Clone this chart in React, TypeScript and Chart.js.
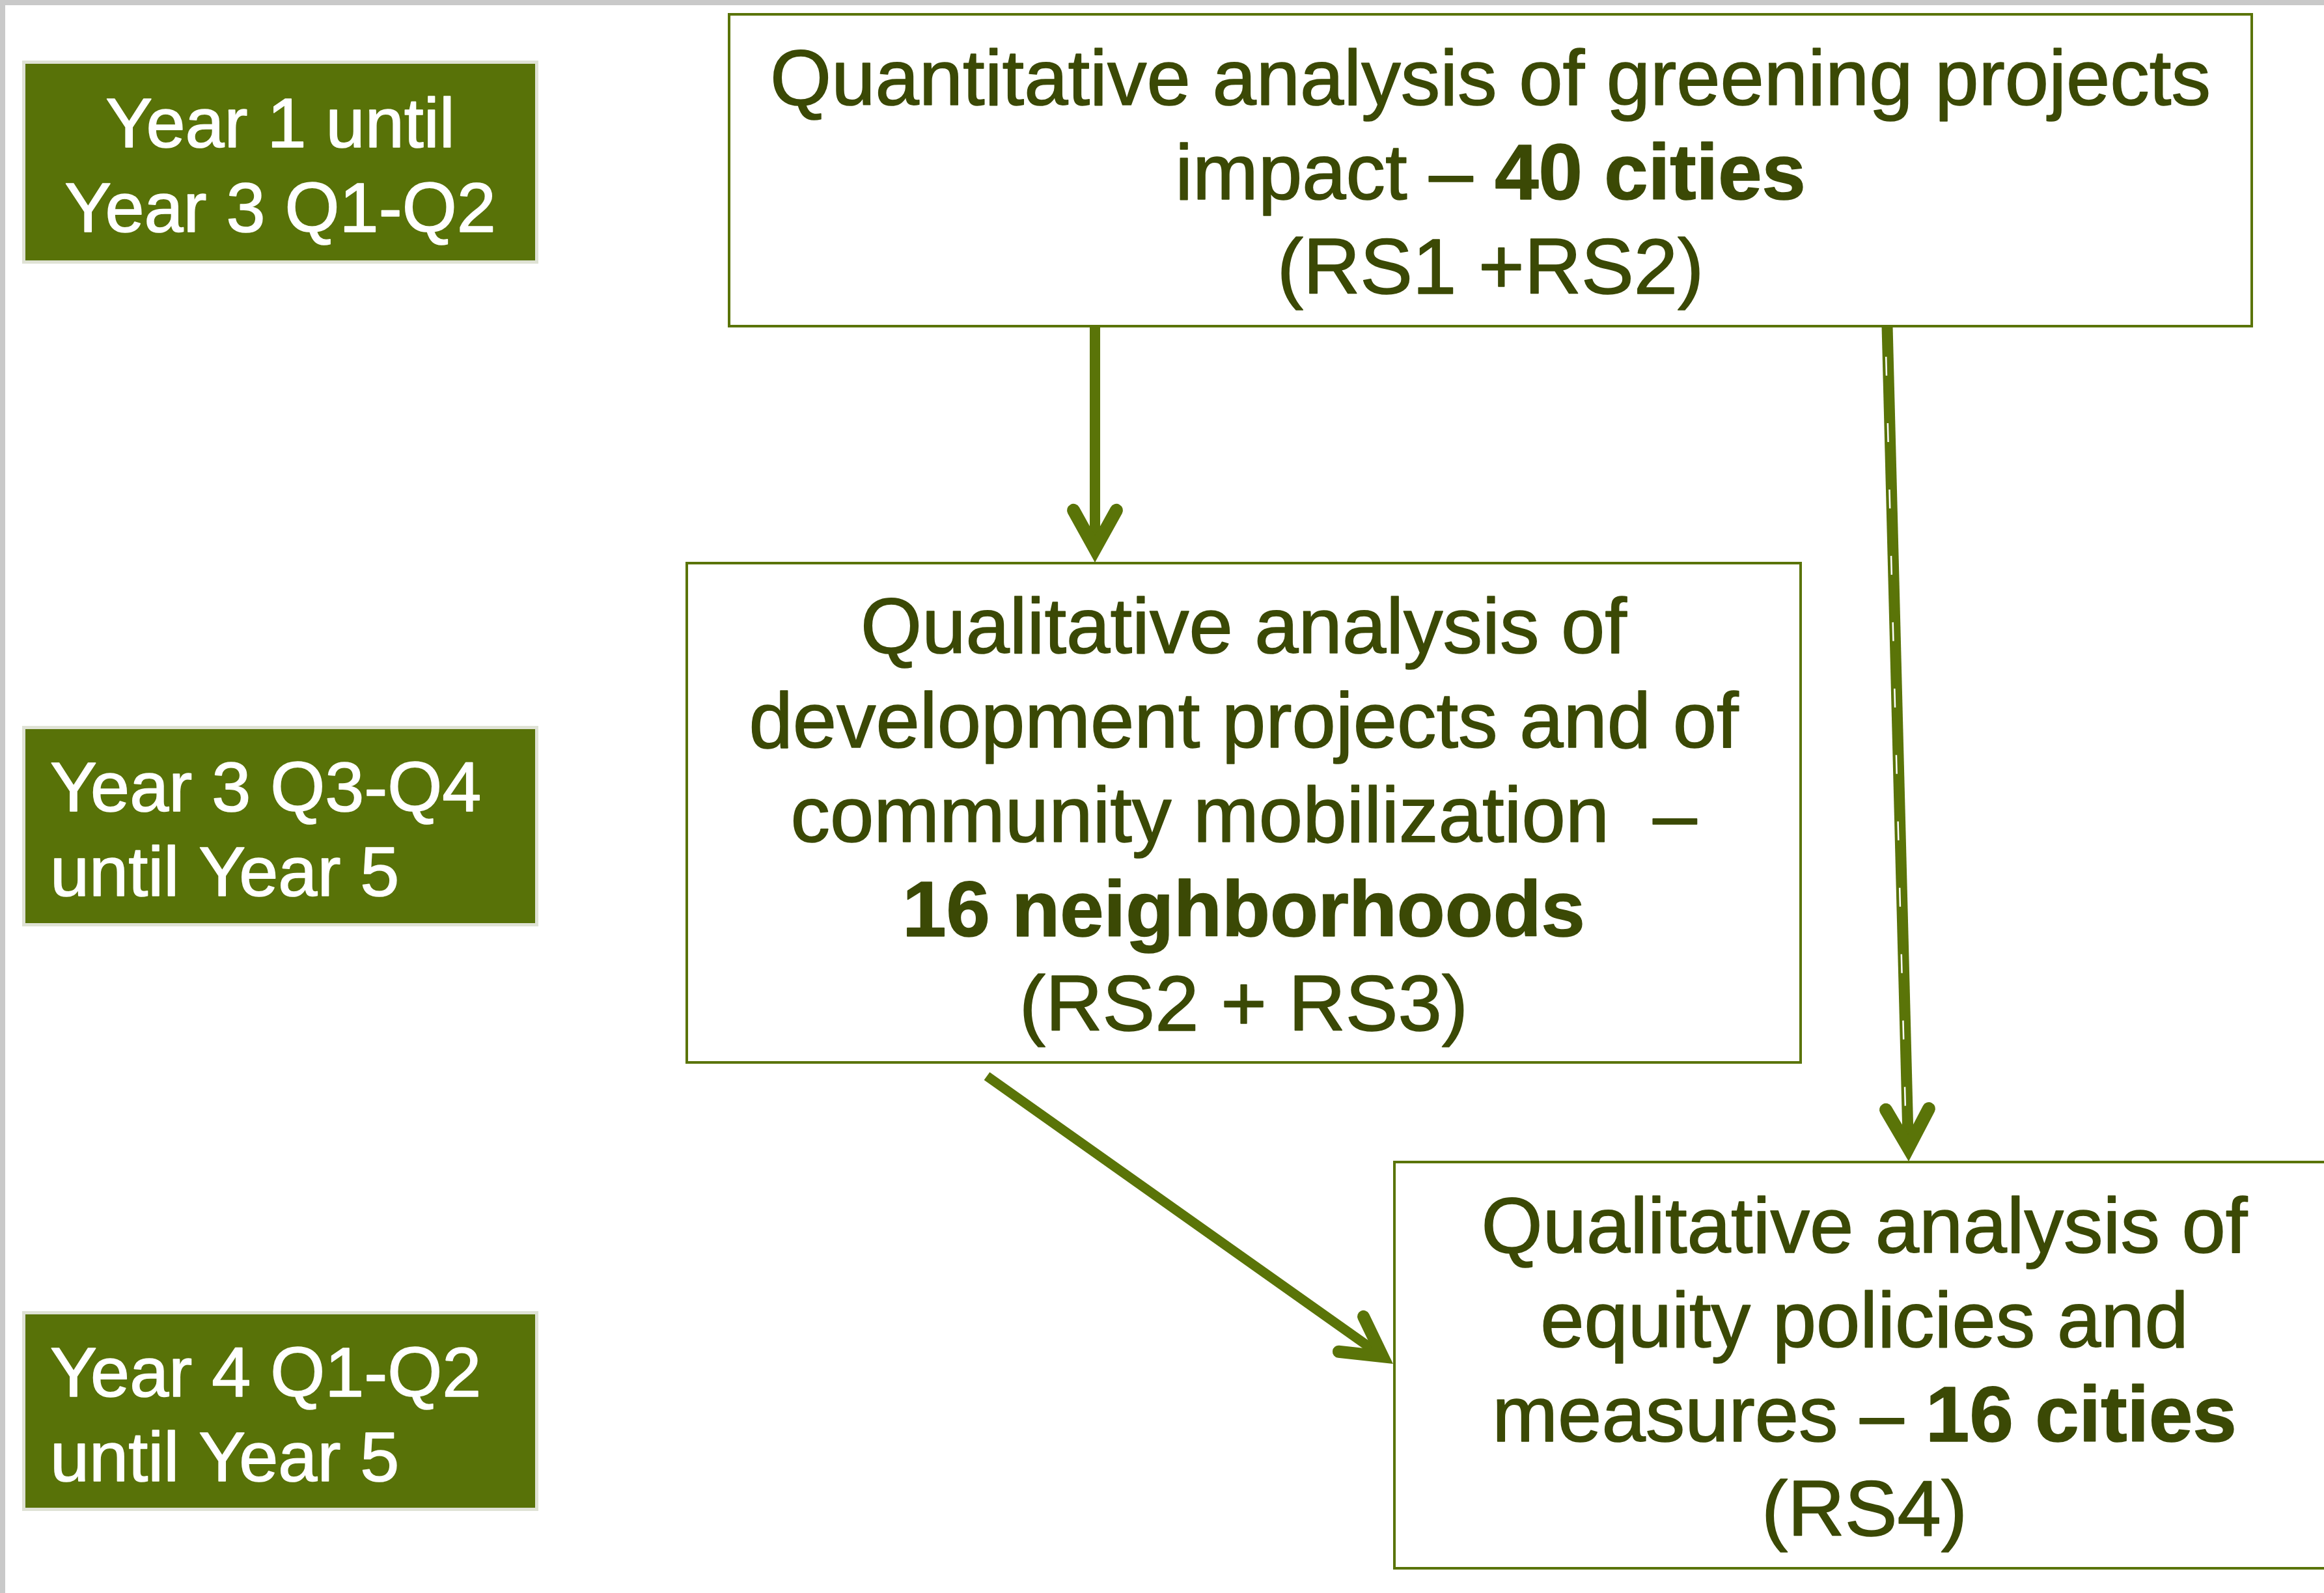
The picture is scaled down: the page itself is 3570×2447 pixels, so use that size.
import { useEffect, useRef } from "react";
import { Chart, registerables } from "chart.js";

Chart.register(...registerables);

// ---- coordinate space of the diagram (data units) ----
const SPACE_W = 3570;
const SPACE_H = 2447;

// ---- timeline labels (left column) ----
const periodLines: string[][] = [
  ["Year 1 until", "Year 3 Q1-Q2"],
  ["Year 3 Q3-Q4", "until Year 5"],
  ["Year 4 Q1-Q2", "until Year 5"],
];
const periodAlign = ["center", "left", "left"];
const periodLeft = [34, 34, 34];
const periodRight = [827, 827, 827];
const periodTop = [93, 1115, 2014];
const periodBottom = [405, 1423, 2321];

// ---- analysis steps (each line = list of [text, bold]) ----
const stepLines: [string, boolean][][][] = [
  [
    [["Quantitative analysis of greening projects", false]],
    [["impact – ", false], ["40 cities", true]],
    [["(RS1 +RS2)", false]],
  ],
  [
    [["Qualitative analysis of", false]],
    [["development projects and of", false]],
    [["community mobilization  –", false]],
    [["16 neighborhoods", true]],
    [["(RS2 + RS3)", false]],
  ],
  [
    [["Qualitative analysis of", false]],
    [["equity policies and", false]],
    [["measures – ", false], ["16 cities", true]],
    [["(RS4)", false]],
  ],
];
const stepLeft = [1120, 1055, 2142];
const stepRight = [3459, 2766, 3586];
const stepTop = [22, 865, 1785];
const stepBottom = [501, 1632, 2409];

// ---- arrows between steps ----
const arrowFromX = [1682, 2899, 1516];
const arrowFromY = [501, 501, 1653];
const arrowToX = [1682, 2932, 2140];
const arrowToY = [864, 1784, 2095];
const arrowWidth = [16, 17, 15];
const arrowHeadWidth = [20, 20, 19];

// ---- styles ----
const GREEN = "#587208";
const GREEN_EDGE = "#dfe2d5";
const LINE_GREEN = "#5a7408";
const TEXT_DARK = "#3b4905";
const FRAME_GRAY = "#c9c9c9";
const FONT = '"Liberation Sans", Arial, sans-serif';
const STEP_FONT_SIZE = 121;
const STEP_LINE_H = 145;
const STEP_BASE_K = 44;
const PERIOD_FONT_SIZE = 108;
const PERIOD_LINE_H = 130;
const PERIOD_BASE_K = 42;
const PERIOD_TEXT_INSET = 43;
const TEXT_HALO = 1.6;
const HEAD_LEN = 68;
const HEAD_ANGLE = (29 * Math.PI) / 180;

function arrowGeom(i: number, sx: any, sy: any) {
  const x0 = sx.getPixelForValue(arrowFromX[i]);
  const y0 = sy.getPixelForValue(arrowFromY[i]);
  const x1 = sx.getPixelForValue(arrowToX[i]);
  const y1 = sy.getPixelForValue(arrowToY[i]);
  const len = Math.hypot(x1 - x0, y1 - y0);
  const dx = (x1 - x0) / len;
  const dy = (y1 - y0) / len;
  const w = arrowHeadWidth[i];
  const tipBack = w / 2 / Math.sin(HEAD_ANGLE);
  const ax = x1 - dx * tipBack;
  const ay = y1 - dy * tipBack;
  return { x0, y0, x1, y1, dx, dy, w, ax, ay };
}

const diagramPlugin = {
  id: "diagram",
  beforeDraw(chart: any) {
    const { ctx, scales } = chart;
    const sx = scales.x;
    const sy = scales.y;
    ctx.save();
    ctx.fillStyle = "#ffffff";
    ctx.fillRect(0, 0, chart.width, chart.height);
    // frame
    ctx.fillStyle = FRAME_GRAY;
    ctx.fillRect(0, 0, chart.width, 8);
    ctx.fillRect(0, 0, 8, chart.height);

    // period boxes
    for (let i = 0; i < periodLines.length; i++) {
      const l = sx.getPixelForValue(periodLeft[i]);
      const r = sx.getPixelForValue(periodRight[i]);
      const t = sy.getPixelForValue(periodTop[i]);
      const b = sy.getPixelForValue(periodBottom[i]);
      ctx.fillStyle = GREEN_EDGE;
      ctx.fillRect(l, t, r - l, b - t);
      ctx.fillStyle = GREEN;
      ctx.fillRect(l + 5, t + 5, r - l - 10, b - t - 10);
    }
    // step boxes
    ctx.strokeStyle = LINE_GREEN;
    ctx.lineWidth = 4;
    for (let i = 0; i < stepLines.length; i++) {
      const l = sx.getPixelForValue(stepLeft[i]);
      const r = sx.getPixelForValue(stepRight[i]);
      const t = sy.getPixelForValue(stepTop[i]);
      const b = sy.getPixelForValue(stepBottom[i]);
      ctx.fillStyle = "#ffffff";
      ctx.fillRect(l, t, r - l, b - t);
      ctx.strokeRect(l, t, r - l, b - t);
    }
    ctx.restore();
  },
  afterDatasetsDraw(chart: any) {
    const { ctx, scales } = chart;
    const sx = scales.x;
    const sy = scales.y;
    ctx.save();
    for (let i = 0; i < arrowFromX.length; i++) {
      const g = arrowGeom(i, sx, sy);
      const bx = -g.dx;
      const by = -g.dy;
      const c = Math.cos(HEAD_ANGLE);
      const s = Math.sin(HEAD_ANGLE);
      const p1x = g.ax + (bx * c - by * s) * HEAD_LEN;
      const p1y = g.ay + (bx * s + by * c) * HEAD_LEN;
      const p2x = g.ax + (bx * c + by * s) * HEAD_LEN;
      const p2y = g.ay + (-bx * s + by * c) * HEAD_LEN;
      ctx.strokeStyle = LINE_GREEN;
      ctx.lineWidth = g.w;
      ctx.lineJoin = "miter";
      ctx.miterLimit = 10;
      ctx.lineCap = "round";
      ctx.beginPath();
      ctx.moveTo(p1x, p1y);
      ctx.lineTo(g.ax, g.ay);
      ctx.lineTo(p2x, p2y);
      ctx.stroke();
    }
    // white dash artefact inside the long right arrow
    const g = arrowGeom(1, sx, sy);
    ctx.strokeStyle = "#ffffff";
    ctx.lineWidth = 2.5;
    ctx.lineCap = "butt";
    ctx.setLineDash([29, 73]);
    ctx.lineDashOffset = 55;
    ctx.beginPath();
    ctx.moveTo(g.x0 - 3, g.y0);
    ctx.lineTo(g.ax - 3 - g.dx * 40, g.ay - g.dy * 40);
    ctx.stroke();
    ctx.setLineDash([]);
    ctx.restore();
  },
  afterDraw(chart: any) {
    const { ctx, scales } = chart;
    const sx = scales.x;
    const sy = scales.y;
    ctx.save();
    ctx.textBaseline = "alphabetic";
    ctx.lineJoin = "round";
    ctx.lineWidth = TEXT_HALO;
    // period labels
    ctx.fillStyle = "#ffffff";
    ctx.strokeStyle = "#ffffff";
    ctx.font = `${PERIOD_FONT_SIZE}px ${FONT}`;
    for (let i = 0; i < periodLines.length; i++) {
      const l = sx.getPixelForValue(periodLeft[i]);
      const r = sx.getPixelForValue(periodRight[i]);
      const t = sy.getPixelForValue(periodTop[i]);
      const b = sy.getPixelForValue(periodBottom[i]);
      const cy = (t + b) / 2;
      const n = periodLines[i].length;
      periodLines[i].forEach((line, j) => {
        const y = cy + (j - (n - 1) / 2) * PERIOD_LINE_H + PERIOD_BASE_K;
        let x: number;
        if (periodAlign[i] === "center") {
          ctx.textAlign = "center";
          x = (l + r) / 2;
        } else {
          ctx.textAlign = "left";
          x = l + PERIOD_TEXT_INSET;
        }
        ctx.fillText(line, x, y);
        ctx.strokeText(line, x, y);
      });
    }
    // step texts
    ctx.fillStyle = TEXT_DARK;
    ctx.strokeStyle = TEXT_DARK;
    ctx.textAlign = "left";
    const fnt = (bold: boolean) =>
      `${bold ? "bold " : ""}${STEP_FONT_SIZE}px ${FONT}`;
    for (let i = 0; i < stepLines.length; i++) {
      const l = sx.getPixelForValue(stepLeft[i]);
      const r = sx.getPixelForValue(stepRight[i]);
      const t = sy.getPixelForValue(stepTop[i]);
      const b = sy.getPixelForValue(stepBottom[i]);
      const cx = (l + r) / 2;
      const cy = (t + b) / 2;
      const n = stepLines[i].length;
      stepLines[i].forEach((segs, j) => {
        const y = cy + (j - (n - 1) / 2) * STEP_LINE_H + STEP_BASE_K;
        let total = 0;
        segs.forEach(([txt, bold]) => {
          ctx.font = fnt(bold);
          total += ctx.measureText(txt).width;
        });
        let x = cx - total / 2;
        segs.forEach(([txt, bold]) => {
          ctx.font = fnt(bold);
          ctx.fillText(txt, x, y);
          ctx.strokeText(txt, x, y);
          x += ctx.measureText(txt).width;
        });
      });
    }
    ctx.restore();
  },
};

export default function App() {
  const ref = useRef<HTMLCanvasElement | null>(null);
  useEffect(() => {
    document.body.style.margin = "0";
    const canvas = ref.current;
    if (!canvas) return;
    const shaftData = arrowFromX.map((_, i) => {
      const len = Math.hypot(arrowToX[i] - arrowFromX[i], arrowToY[i] - arrowFromY[i]);
      const dx = (arrowToX[i] - arrowFromX[i]) / len;
      const dy = (arrowToY[i] - arrowFromY[i]) / len;
      const back = arrowHeadWidth[i] / 2 / Math.sin(HEAD_ANGLE);
      return [
        { x: arrowFromX[i], y: arrowFromY[i] },
        { x: arrowToX[i] - dx * back, y: arrowToY[i] - dy * back },
      ];
    });
    const chart = new Chart(canvas, {
      type: "scatter",
      data: {
        datasets: shaftData.map((d, i) => ({
          data: d,
          showLine: true,
          borderColor: LINE_GREEN,
          borderWidth: arrowWidth[i],
          borderCapStyle: "butt",
          pointRadius: 0,
          pointHoverRadius: 0,
          fill: false,
        })),
      },
      options: {
        responsive: false,
        animation: false,
        devicePixelRatio: 1,
        layout: { padding: 0 },
        events: [],
        plugins: {
          legend: { display: false },
          tooltip: { enabled: false },
          title: { display: false },
        },
        scales: {
          x: { type: "linear", min: 0, max: SPACE_W, display: false },
          y: { type: "linear", min: 0, max: SPACE_H, reverse: true, display: false },
        },
      },
      plugins: [diagramPlugin],
    } as any);
    return () => chart.destroy();
  }, []);
  return (
    <canvas
      ref={ref}
      width={SPACE_W}
      height={SPACE_H}
      style={{ display: "block", width: SPACE_W, height: SPACE_H }}
    />
  );
}
